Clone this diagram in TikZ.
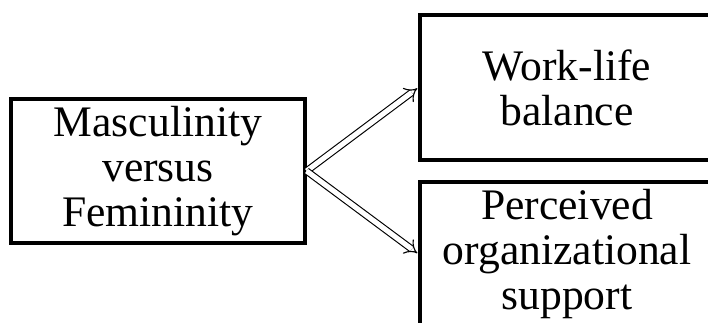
\documentclass[tikz,border=0pt]{standalone}
\usepackage{fontspec}
\setmainfont{Liberation Serif}
\usepackage{tikz}
\usetikzlibrary{arrows.meta}

\begin{document}
\begin{tikzpicture}[
      x=0.025cm, y=-0.025cm,
      font=\fontsize{31}{32}\selectfont,
      box/.style={draw, line width=2.8pt, align=center, fill=white,
        minimum width=7.33cm, minimum height=3.62cm, inner sep=2pt},
      dblarr/.style={double, double distance=3.6pt, line width=0.8pt,
        -{Implies}, shorten >=1pt}
    ]
    \useasboundingbox (0,0) rectangle (708,322);
    \node[box] (mf) at (158,171) {Masculinity\\versus\\Femininity};
    \node[box] (wlb) at (567,87.5) {Work-life\\balance};
    \node[box] (pos) at (567,254) {Perceived\\organizational\\support};
    \draw[dblarr] (mf.east) -- (wlb.west);
    \draw[dblarr] (mf.east) -- (pos.west);
  \end{tikzpicture}
\end{document}
